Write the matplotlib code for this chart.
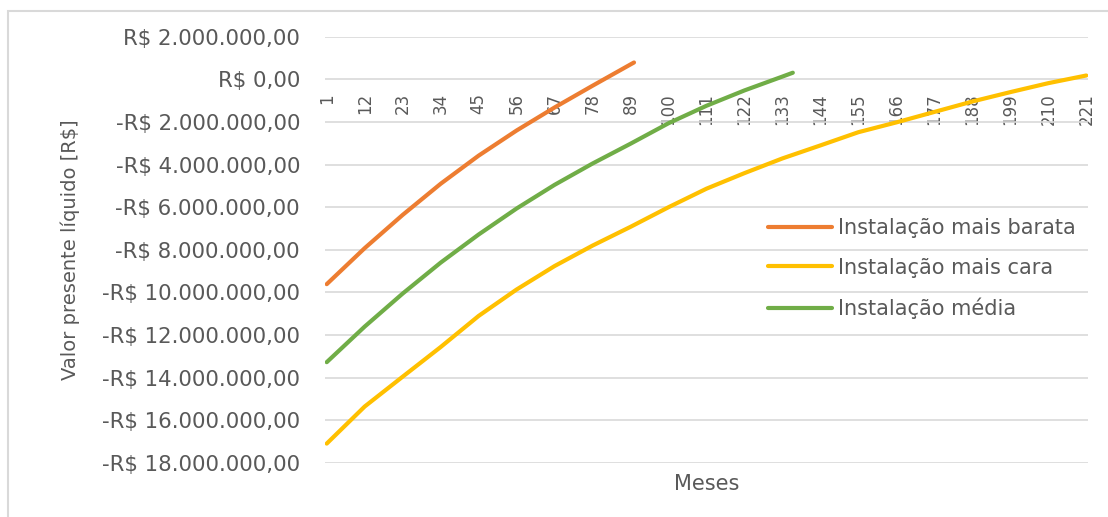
# Valor presente líquido das três instalações ao longo dos meses
import matplotlib.pyplot as plt
from matplotlib.patches import Rectangle
from matplotlib.ticker import FuncFormatter

# meses lidos no gráfico e VPL correspondente (R$)
meses_barata = [1, 12, 23, 34, 45, 56, 67, 78, 89, 90]
vpl_barata = [-9.61e6, -7.92e6, -6.36e6, -4.90e6, -3.58e6, -2.40e6, -1.32e6,
              -0.30e6, 0.70e6, 0.79e6]

meses_cara = [1, 12, 23, 34, 45, 56, 67, 78, 89, 100, 111, 122, 133, 144,
              155, 166, 177, 188, 199, 210, 221]
vpl_cara = [-17.09e6, -15.35e6, -13.95e6, -12.56e6, -11.10e6, -9.86e6,
            -8.76e6, -7.80e6, -6.92e6, -6.00e6, -5.13e6, -4.40e6, -3.71e6,
            -3.10e6, -2.48e6, -2.02e6, -1.53e6, -1.04e6, -0.60e6, -0.18e6,
            0.18e6]

meses_media = [1, 12, 23, 34, 45, 56, 67, 78, 89, 100, 111, 122, 133, 136]
vpl_media = [-13.27e6, -11.60e6, -10.05e6, -8.60e6, -7.28e6, -6.06e6,
             -4.95e6, -3.95e6, -3.02e6, -2.06e6, -1.24e6, -0.52e6, 0.13e6,
             0.31e6]

ticks_meses = [1, 12, 23, 34, 45, 56, 67, 78, 89, 100, 111, 122, 133, 144,
               155, 166, 177, 188, 199, 210, 221]
ticks_vpl = [2e6, 0, -2e6, -4e6, -6e6, -8e6, -10e6, -12e6, -14e6, -16e6, -18e6]

cinza = '#595959'

def reais(v, pos=None):
    s = '{:,.2f}'.format(abs(v)).replace(',', 'X').replace('.', ',').replace('X', '.')
    return ('-R$ ' if v < 0 else 'R$ ') + s

plt.rcParams['font.family'] = ['DejaVu Sans']

W, H = 1108, 517
fig = plt.figure(figsize=(W/100, H/100), dpi=100)
ax = fig.add_axes([325/W, 1-463/H, (1088-325)/W, (463-36.7)/H])

ax.plot(meses_barata, vpl_barata, color='#ED7D31', lw=3, solid_capstyle='round',
        label='Instalação mais barata', zorder=3)
ax.plot(meses_cara, vpl_cara, color='#FFC000', lw=3, solid_capstyle='round',
        label='Instalação mais cara', zorder=3)
ax.plot(meses_media, vpl_media, color='#70AD47', lw=3, solid_capstyle='round',
        label='Instalação média', zorder=3)

ax.set_xlim(0.5, 221.5)
ax.set_ylim(-18e6, 2e6)
ax.grid(axis='y', color='#d9d9d9', lw=1.2)
ax.set_axisbelow(True)
for s in ['top', 'right', 'left']:
    ax.spines[s].set_visible(False)
ax.spines['bottom'].set_position(('data', 0))
ax.spines['bottom'].set_visible(False)

ax.set_yticks(ticks_vpl)
ax.yaxis.set_major_formatter(FuncFormatter(reais))
ax.set_xticks(ticks_meses)
ax.set_xticklabels([str(m) for m in ticks_meses])

ax.tick_params(axis='x', length=0, pad=10, labelsize=12, labelcolor=cinza,
               labelrotation=90)
ax.tick_params(axis='y', length=0, pad=18, labelsize=15.3, labelcolor=cinza)

ax.set_ylabel('Valor presente líquido [R$]', fontsize=14, color=cinza)
ax.yaxis.set_label_coords(-0.321, 0.5)
ax.set_xlabel('Meses', fontsize=15, color=cinza)
ax.xaxis.set_label_coords(0.5, -0.025)

ax.legend(loc='upper left', bbox_to_anchor=(768/W, 1-218/H),
          bbox_transform=fig.transFigure, frameon=False, fontsize=15,
          handlelength=3.07, handletextpad=0.29, labelspacing=0.95,
          borderpad=0, borderaxespad=0, labelcolor=cinza)

# moldura da área do gráfico (só topo e esquerda visíveis)
fig.patches.append(Rectangle((8/W, -0.1), 1.2, 1.1 - 11/H,
                             transform=fig.transFigure, fill=False,
                             edgecolor='#d9d9d9', lw=1.5))

fig.savefig('out.png', dpi=100, facecolor='white')
